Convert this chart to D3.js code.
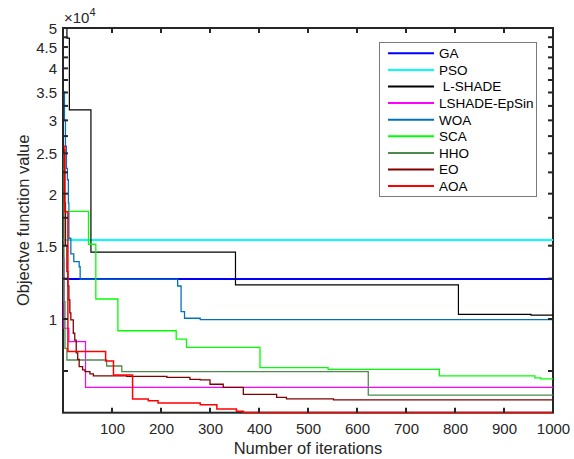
<!DOCTYPE html>
<html><head><meta charset="utf-8">
<script src="https://cdn.jsdelivr.net/npm/d3@7"></script>
<style>body{margin:0;background:#fff}svg{display:block;font-family:"Liberation Sans",Arial,sans-serif}</style>
</head><body><svg id="c" width="574" height="459"></svg>
<script>
// values in units of 1e4, [iteration, value] step points
const seriesNames = ["GA","PSO"," L-SHADE","LSHADE-EpSin","WOA","SCA","HHO","EO","AOA"];
const seriesColors = ["#0000ff","#00ffff","#000000","#ff00ff","#0072bd","#00ff00","#4d8a4d","#800000","#ff0000"];
const GA = [[1,1.248],[1000,1.248]];
const PSO = [[1,1.548],[1000,1.548]];
const LSHADE = [[1,5.6],[8,4.73],[13,3.18],[57,1.448],[352,1.208],[807,1.026],[955,1.022],[1000,1.022]];
const EPSIN = [[1,1.4],[2,0.95],[12,0.882],[46,0.685],[1000,0.685]];
const WOA = [[1,3.51],[3,3.0],[5,2.6],[7,2.3],[9,2.16],[11,1.9],[12,1.563],[16,1.433],[22,1.373],[33,1.335],[35,1.246],[234,1.200],[241,1.041],[248,1.004],[280,0.997],[1000,0.997]];
const SCA = [[1,2.3],[3,1.814],[52,1.512],[67,1.117],[112,0.937],[231,0.895],[252,0.855],[402,0.764],[541,0.757],[768,0.730],[963,0.722],[975,0.718],[1000,0.718]];
const HHO = [[1,2.5],[2,1.1],[4,0.85],[8,0.797],[89,0.771],[120,0.747],[623,0.656],[1000,0.656]];
const EO = [[1,2.55],[3,1.9],[5,1.5],[8,1.3],[10,1.2],[12,1.111],[14,1.034],[16,0.995],[21,0.924],[24,0.89],[27,0.829],[30,0.8],[33,0.768],[40,0.755],[45,0.747],[55,0.738],[62,0.730],[130,0.728],[212,0.724],[259,0.716],[280,0.714],[300,0.697],[327,0.685],[368,0.659],[436,0.648],[456,0.643],[552,0.639],[1000,0.639]];
const AOA = [[1,2.6],[4,1.81],[10,0.835],[87,0.793],[103,0.734],[142,0.642],[174,0.636],[194,0.628],[280,0.622],[314,0.608],[354,0.600],[368,0.5965],[1000,0.5965]];
const seriesData = [GA,PSO,LSHADE,EPSIN,WOA,SCA,HHO,EO,AOA];
const seriesWidths = [2,2,1.2,1.2,1.3,1.3,1.3,1.3,1.5];
const xTicks = [100,200,300,400,500,600,700,800,900,1000];
const yMajor = [1,1.5,2,2.5,3,3.5,4,4.5,5];
const yMinor = [0.75,1.25,1.75,2.25,2.75,3.25,3.75,4.25,4.75];

const L=63,R=553,T=28,B=412.7;
const svg=d3.select("#c");
const x=d3.scaleLinear().domain([0,1000]).range([L,R]);
const y=d3.scaleLog().domain([0.5955,5]).range([B,T]);
const ax="#262626";

svg.append("defs").append("clipPath").attr("id","clip").append("rect")
  .attr("x",L).attr("y",T).attr("width",R-L).attr("height",B-T+1);

// axes box
svg.append("rect").attr("x",L).attr("y",T).attr("width",R-L).attr("height",B-T)
  .attr("fill","none").attr("stroke",ax).attr("stroke-width",2);

const line=d3.line().x(d=>x(d[0])).y(d=>y(d[1])).curve(d3.curveStepAfter);
const g=svg.append("g").attr("clip-path","url(#clip)");
seriesData.forEach((s,i)=>{
  g.append("path").attr("d",line(s)).attr("fill","none")
   .attr("stroke",seriesColors[i]).attr("stroke-width",seriesWidths[i]);
});

// x ticks (inward, bottom and top)
const xb=svg.append("g").attr("transform",`translate(0,${B})`)
  .call(d3.axisBottom(x).tickValues(xTicks).tickSize(0).tickPadding(0).tickFormat(d3.format("d")));
xb.select(".domain").remove();
xb.selectAll("text").attr("y",21).attr("dy",0).attr("fill",ax).style("font-size","15px").style("font-family","Liberation Sans, Arial");
xTicks.forEach(t=>{
  svg.append("line").attr("x1",x(t)).attr("x2",x(t)).attr("y1",B).attr("y2",B-5).attr("stroke",ax).attr("stroke-width",2);
  svg.append("line").attr("x1",x(t)).attr("x2",x(t)).attr("y1",T).attr("y2",T+5).attr("stroke",ax).attr("stroke-width",2);
});
// y ticks
const yl=svg.append("g").attr("transform",`translate(${L},0)`)
  .call(d3.axisLeft(y).tickValues(yMajor).tickSize(0).tickPadding(6).tickFormat(d=>String(d)));
yl.select(".domain").remove();
yl.selectAll("text").attr("fill",ax).attr("dy","0.36em").style("font-size","15px").style("font-family","Liberation Sans, Arial");
yMajor.concat(yMinor).forEach(t=>{
  svg.append("line").attr("x1",L).attr("x2",L+5).attr("y1",y(t)).attr("y2",y(t)).attr("stroke",ax).attr("stroke-width",2);
  svg.append("line").attr("x1",R).attr("x2",R-5).attr("y1",y(t)).attr("y2",y(t)).attr("stroke",ax).attr("stroke-width",2);
});

// exponent
const ex=svg.append("text").attr("x",64).attr("y",23).attr("fill",ax).style("font-size","15px");
ex.append("tspan").text("×10");
ex.append("tspan").attr("dy",-7).style("font-size","11px").text("4");

// axis labels
svg.append("text").attr("x",(L+R)/2).attr("y",454).attr("text-anchor","middle").attr("fill",ax)
  .style("font-size","16.5px").text("Number of iterations");
svg.append("text").attr("transform",`translate(29,${(T+B)/2}) rotate(-90)`).attr("text-anchor","middle").attr("fill",ax)
  .style("font-size","16.5px").text("Objectve function value");

// legend
const lg=svg.append("g");
lg.append("rect").attr("x",379.5).attr("y",42.5).attr("width",157).attr("height",154)
  .attr("fill","#fff").attr("stroke","#7a7a7a").attr("stroke-width",1);
seriesNames.forEach((n,i)=>{
  const yy=53.3+i*16.6;
  lg.append("line").attr("x1",388).attr("x2",434).attr("y1",yy).attr("y2",yy)
    .attr("stroke",seriesColors[i]).attr("stroke-width",2);
  lg.append("text").attr("x",439).attr("y",yy).attr("dy","0.36em").attr("fill","#000")
    .style("font-size","13.5px").style("white-space","pre").attr("xml:space","preserve").text(n);
});
</script></body></html>
